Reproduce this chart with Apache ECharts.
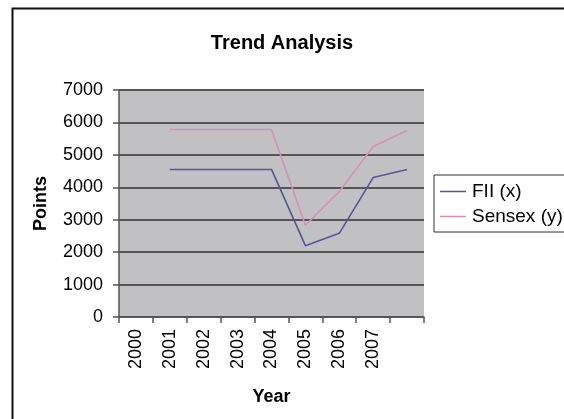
<!DOCTYPE html>
<html><head><meta charset="utf-8">
<script src="https://cdn.jsdelivr.net/npm/echarts@6/dist/echarts.min.js"></script>
<style>html,body{margin:0;padding:0;background:#fff;}#c{width:564px;height:419px;}</style>
</head><body><div id="c"></div>
<script>
var categories = ['2000','2001','2002','2003','2004','2005','2006','2007',''];
var fiiValues = [null, 4550, 4550, 4550, 4550, 2200, 2580, 4300, 4550];
var sensexValues = [null, 5780, 5780, 5780, 5780, 2830, 3870, 5260, 5750];
var yTicks = [0, 1000, 2000, 3000, 4000, 5000, 6000, 7000];

var chart = echarts.init(document.getElementById('c'), null, {renderer: 'canvas'});
var font = 'Liberation Sans, Arial, sans-serif';
chart.setOption({
  animation: false,
  backgroundColor: '#fff',
  textStyle: {fontFamily: font},
  title: {text: 'Trend Analysis', left: 'center', top: 28,
    textStyle: {fontFamily: font, fontSize: 20, fontWeight: 'bold', color: '#000'}},
  graphic: [{type: 'rect', shape: {x: 12.5, y: 8.5, width: 560, height: 420},
    style: {fill: null, stroke: '#111', lineWidth: 2}, silent: true}],
  legend: {orient: 'vertical', left: 434, top: 175,
    padding: [7, 30, 6, 6], itemGap: 6, itemWidth: 26, itemHeight: 1.5, icon: 'rect',
    borderColor: '#333', borderWidth: 1,
    textStyle: {fontFamily: font, fontSize: 19, color: '#000', padding: [0, 0, 0, 1]},
    data: ['FII (x)', 'Sensex (y)']},
  grid: {left: 119, right: 140, top: 90, bottom: 102, show: true,
    backgroundColor: '#c1c1c4', borderWidth: 0},
  xAxis: {type: 'category', data: categories, boundaryGap: true,
    name: 'Year', nameLocation: 'middle', nameGap: 71,
    nameTextStyle: {fontFamily: font, fontSize: 18, fontWeight: 'bold', color: '#000'},
    axisLine: {show: true, lineStyle: {color: '#555', width: 1.5}},
    axisTick: {show: true, alignWithLabel: false, length: 6, lineStyle: {color: '#555', width: 1.5}},
    axisLabel: {rotate: 90, fontSize: 18, color: '#000', fontFamily: font, margin: 12, interval: 0},
    splitLine: {show: false}},
  yAxis: {type: 'value', min: yTicks[0], max: yTicks[yTicks.length-1], interval: 1000,
    name: 'Points', nameLocation: 'middle', nameGap: 69,
    nameTextStyle: {fontFamily: font, fontSize: 18, fontWeight: 'bold', color: '#000'},
    axisLine: {show: true, lineStyle: {color: '#555', width: 1.5}},
    axisTick: {show: true, length: 6, lineStyle: {color: '#555', width: 1.5}},
    axisLabel: {fontSize: 18, color: '#000', fontFamily: font, margin: 16,
      formatter: function (v) { return String(v); }},
    splitLine: {show: true, lineStyle: {color: '#555', width: 2}}},
  series: [
    {name: 'FII (x)', type: 'line', data: fiiValues, symbol: 'none',
      lineStyle: {color: '#55559a', width: 1.6}, itemStyle: {color: '#55559a'}},
    {name: 'Sensex (y)', type: 'line', data: sensexValues, symbol: 'none',
      lineStyle: {color: '#d98fbb', width: 1.6}, itemStyle: {color: '#d98fbb'}}
  ]
});
</script></body></html>
